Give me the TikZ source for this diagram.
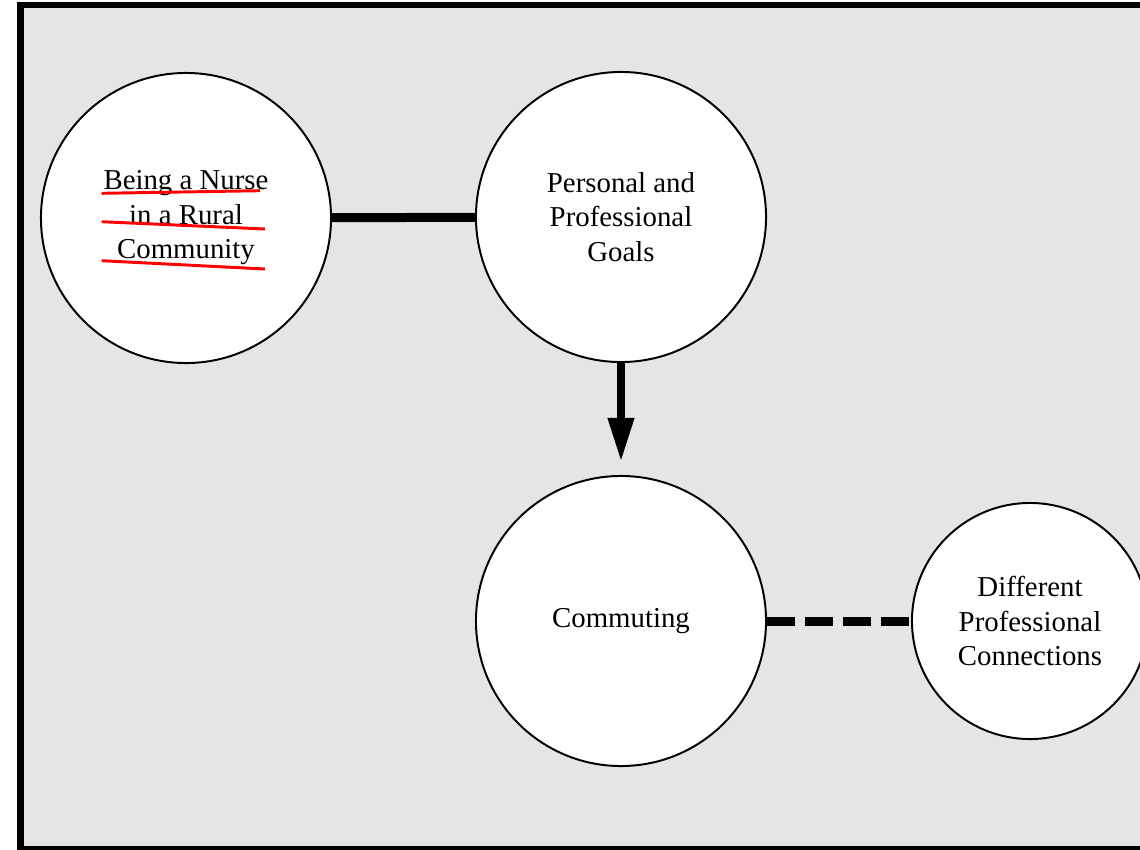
\documentclass[tikz,border=0pt]{standalone}
\usepackage{fontspec}
\setmainfont{Liberation Serif}
\usetikzlibrary{arrows.meta}
\definecolor{panelgray}{HTML}{E5E5E5}
\tikzset{
  bubble/.style={circle, draw, line width=1.4pt, fill=white, inner sep=0pt,
    minimum size=7.25cm, align=center, font=\fontsize{20.5}{24.5}\selectfont},
  smallbubble/.style={bubble, minimum size=5.9cm},
  link/.style={line width=6.4pt},
  dashlink/.style={line width=6.4pt, dash pattern=on 0.7cm off 0.25cm},
  leadsto/.style={line width=5.7pt, -{Triangle[length=1.1cm, width=0.62cm]}, shorten >=0.33cm},
  redmark/.style={red, line width=2.1pt}
}
\begin{document}
\begin{tikzpicture}[x=0.025cm, y=-0.025cm]
    \useasboundingbox (0,0) rectangle (1140,850);
    \clip (0,0) rectangle (1140,850);
    \fill[white] (0,0) rectangle (1140,850);
    \draw[line width=0.15cm, fill=panelgray] (20.5,4.5) rectangle (1180,848.5);
    % circles
    \node[bubble] (nurse) at (186,218) {Being a Nurse\\in a Rural\\Community};
    \node[bubble] (goals) at (621,217) {Personal and\\Professional\\Goals};
    \node[bubble] (commuting) at (621,621) {Commuting};
    \node[smallbubble] (connections) at (1030,621) {Different\\Professional\\Connections};
    % connectors
    \draw[link] (nurse) -- (goals);
    \draw[leadsto] (goals) -- (commuting);
    \draw[dashlink] (commuting) -- (connections);
    % red underlines
    \draw[redmark] (101.7,193.3) -- (260,190.7);
    \draw[redmark] (101.7,221.7) -- (265,229);
    \draw[redmark] (101.7,260.7) -- (265,269);
\end{tikzpicture}
\end{document}
